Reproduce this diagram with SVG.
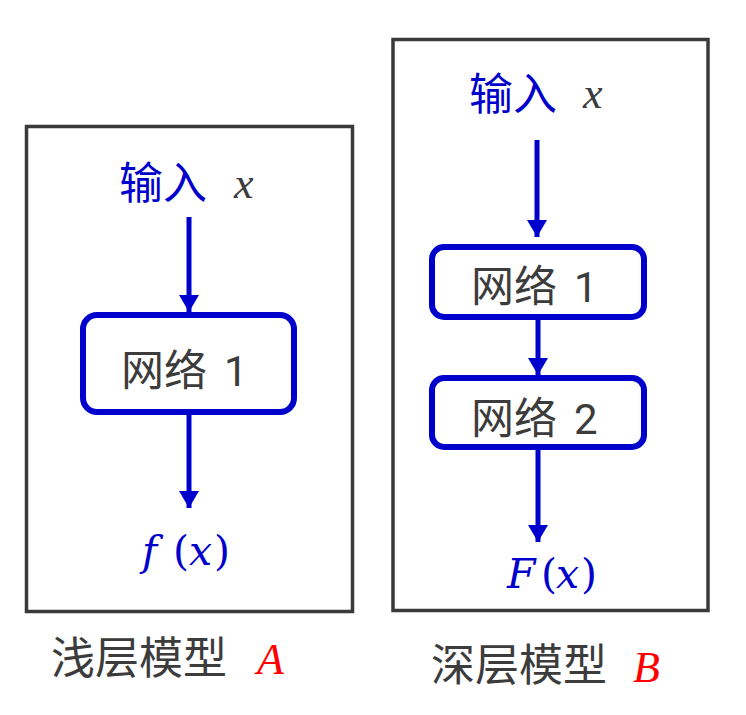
<svg xmlns="http://www.w3.org/2000/svg" width="746" height="715" viewBox="0 0 746 715">
  <style>
    .frame { fill: none; stroke: #3a3a3a; stroke-width: 3.5; }
    .box { fill: #ffffff; stroke: #0000cc; stroke-width: 6; }
    .lbl { font-family: "Noto Sans CJK SC", "Noto Sans", sans-serif; font-size: 43px; fill: #3c3c3c; }
    .dig { font-family: Roboto, "Liberation Sans", "Noto Sans CJK SC", sans-serif; font-size: 42px; fill: #3c3c3c; }
    .inp { font-family: "Noto Sans CJK SC", sans-serif; font-size: 44px; fill: #0000cc; }
    .math { font-family: "Liberation Serif", "DejaVu Serif", serif; font-style: italic; }
    .fx { font-family: "DejaVu Serif", "Liberation Serif", serif; font-style: italic; font-size: 41px; fill: #0000cc; }
    .up { font-style: normal; }
    .conn { stroke: #0000cc; stroke-width: 5; fill: none; }
    .cap { font-family: "Noto Sans CJK SC", sans-serif; font-size: 44px; fill: #3c3c3c; }
  </style>
  <defs>
    <marker id="ah" markerUnits="userSpaceOnUse" markerWidth="22" markerHeight="22" refX="17" refY="10" orient="auto">
      <path d="M0,0 L17,10 L0,20 z" fill="#0000cc"/>
    </marker>
  </defs>
  <rect width="746" height="715" fill="#ffffff"/>

  <g id="frameA"><rect class="frame" x="26.5" y="126.5" width="326" height="485"/></g>
  <g id="frameB"><rect class="frame" x="393" y="39.5" width="315" height="571"/></g>

  <g id="inputA">
    <text class="inp" x="119" y="199">输入</text>
    <text class="math" x="234" y="198" font-size="44" fill="#3c3c3c">x</text>
  </g>
  <g id="netA1">
    <rect class="box" x="83" y="315" width="211" height="97" rx="14"/>
    <text class="lbl" x="121" y="386">网络</text>
    <text class="dig" x="224" y="386">1</text>
  </g>
  <g id="outA">
    <text class="fx" y="565"><tspan x="142">f</tspan><tspan class="up" x="173">(</tspan><tspan x="189">x</tspan><tspan class="up" x="214">)</tspan></text>
  </g>

  <g id="inputB">
    <text class="inp" x="469" y="110">输入</text>
    <text class="math" x="583" y="108" font-size="44" fill="#3c3c3c">x</text>
  </g>
  <g id="netB1">
    <rect class="box" x="432" y="247" width="212" height="70" rx="12"/>
    <text class="lbl" x="471" y="302">网络</text>
    <text class="dig" x="574" y="302">1</text>
  </g>
  <g id="netB2">
    <rect class="box" x="432" y="378" width="212" height="69" rx="12"/>
    <text class="lbl" x="471" y="434">网络</text>
    <text class="dig" x="574" y="434">2</text>
  </g>
  <g id="outB">
    <text class="fx" y="588"><tspan x="507">F</tspan><tspan class="up" x="541">(</tspan><tspan x="556">x</tspan><tspan class="up" x="581">)</tspan></text>
  </g>

  <g id="connectors">
    <line class="conn" x1="189" y1="217" x2="189" y2="312" marker-end="url(#ah)"/>
    <line class="conn" x1="189" y1="415" x2="189" y2="508" marker-end="url(#ah)"/>
    <line class="conn" x1="537" y1="140" x2="537" y2="237" marker-end="url(#ah)"/>
    <line class="conn" x1="538" y1="320" x2="538" y2="375" marker-end="url(#ah)"/>
    <line class="conn" x1="538" y1="450" x2="538" y2="542" marker-end="url(#ah)"/>
  </g>

  <g id="captionA">
    <text class="cap" x="51" y="674">浅层模型</text>
    <text class="math" x="257" y="674" font-size="44" fill="#ff0000">A</text>
  </g>
  <g id="captionB">
    <text class="cap" x="431" y="681">深层模型</text>
    <text class="math" x="633" y="682" font-size="44" fill="#ff0000">B</text>
  </g>
</svg>
